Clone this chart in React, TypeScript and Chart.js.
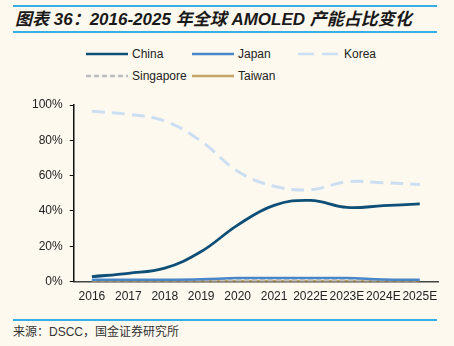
import React, { useEffect, useRef } from "react";
import { Chart, registerables } from "chart.js";

Chart.register(...registerables);

const categories = ["2016", "2017", "2018", "2019", "2020", "2021", "2022E", "2023E", "2024E", "2025E"];
const china = [2.8, 4.7, 7.6, 17, 32, 43.2, 46, 42, 43, 44];
const japan = [1, 1, 1, 1.3, 2, 2, 2, 2, 1.2, 1];
const korea = [96.5, 94.7, 91, 79.5, 62.5, 54, 52, 56.5, 56, 55];
const singapore = [0.6, 0.6, 0.6, 0.6, 0.6, 0.6, 0.6, 0.6, 0.6, 0.6];
const taiwan = [0.1, 0.1, 0.1, 0.1, 0.1, 0.1, 0.1, 0.1, 0.1, 0.1];
const yTicks = [0, 20, 40, 60, 80, 100];

const BG = "#FDF9EF";
const C_CHINA = "#0E4F77";
const C_JAPAN = "#4A87C9";
const C_KOREA = "#CCDFF2";
const C_SING = "#BDBDBD";
const C_TAIWAN = "#C7A364";

const legendItems = [
  { label: "China", color: C_CHINA, dash: "", x: 86, y: 54 },
  { label: "Japan", color: C_JAPAN, dash: "", x: 192, y: 54 },
  { label: "Korea", color: C_KOREA, dash: "16 8", x: 298, y: 54 },
  { label: "Singapore", color: C_SING, dash: "5 3", x: 86, y: 76 },
  { label: "Taiwan", color: C_TAIWAN, dash: "", x: 192, y: 76 },
];

export default function App() {
  const ref = useRef<HTMLCanvasElement>(null);

  useEffect(() => {
    const prevMargin = document.body.style.margin;
    document.body.style.margin = "0";
    const ctx = ref.current!;
    const ds = (label: string, data: number[], color: string, width: number, dash: number[] = []) => ({
      label,
      data,
      borderColor: color,
      backgroundColor: color,
      borderWidth: width,
      borderDash: dash,
      pointRadius: 0,
      tension: 0.4,
      fill: false,
    });
    const chart = new Chart(ctx, {
      type: "line",
      data: {
        labels: categories,
        datasets: [
          ds("China", china, C_CHINA, 2.8),
          ds("Korea", korea, C_KOREA, 3, [13, 7]),
          ds("Japan", japan, C_JAPAN, 2.5),
          ds("Singapore", singapore, C_SING, 2.5, [5, 3]),
          ds("Taiwan", taiwan, C_TAIWAN, 2.8),
        ],
      },
      options: {
        animation: false,
        responsive: false,
        maintainAspectRatio: false,
        layout: { padding: { top: 17, left: 25, right: 16, bottom: 6 } },
        plugins: { legend: { display: false }, title: { display: false }, tooltip: { enabled: false } },
        scales: {
          x: {
            offset: true,
            grid: { display: true, drawOnChartArea: false, drawTicks: false, color: "#444", offset: true },
            border: { display: true, color: "#444", width: 1.5 },
            ticks: { color: "#222", font: { family: "'Liberation Sans', Arial, sans-serif", size: 12 }, padding: 8, maxRotation: 0, autoSkip: false },
          },
          y: {
            min: 0,
            max: 100,
            afterBuildTicks: (axis: any) => {
              axis.ticks = yTicks.map((v) => ({ value: v }));
            },
            grid: { display: true, drawOnChartArea: false, drawTicks: true, tickLength: 4, color: "#111" },
            border: { display: true, color: "#111", width: 1.5 },
            ticks: {
              color: "#222",
              font: { family: "'Liberation Sans', Arial, sans-serif", size: 12 },
              padding: 7,
              callback: (v: any) => v + "%",
            },
          },
        },
      },
    });
    return () => {
      chart.destroy();
      document.body.style.margin = prevMargin;
    };
  }, []);

  const lineStyle = (y: number): React.CSSProperties => ({
    position: "absolute",
    left: 13,
    width: 424,
    top: y,
    height: 2,
    background: "#38AEE6",
  });

  return (
    <div style={{ position: "fixed", left: 0, top: 0, width: 454, height: 346, background: BG, overflow: "hidden" }}>
      <div style={lineStyle(5)} />
      <div
        style={{
          position: "absolute",
          left: 15,
          top: 9,
          fontFamily: "'Liberation Sans', 'Noto Sans CJK SC', sans-serif",
          fontSize: 17,
          fontWeight: "bold",
          fontStyle: "italic",
          color: "#1a1a1a",
          whiteSpace: "nowrap",
          lineHeight: "22px",
        }}
      >
        图表 36：2016-2025 年全球 AMOLED 产能占比变化
      </div>
      <div style={lineStyle(31)} />
      {legendItems.map((it) => (
        <div key={it.label} style={{ position: "absolute", left: it.x, top: it.y - 8, height: 16, display: "flex", alignItems: "center" }}>
          <svg width={42} height={6} style={{ display: "block" }}>
            <line x1={0} y1={3} x2={42} y2={3} stroke={it.color} strokeWidth={2.5} strokeDasharray={it.dash || undefined} />
          </svg>
          <span
            style={{
              marginLeft: 4,
              fontFamily: "'Liberation Sans', Arial, sans-serif",
              fontSize: 12,
              color: "#222",
              lineHeight: "16px",
            }}
          >
            {it.label}
          </span>
        </div>
      ))}
      <canvas ref={ref} width={454} height={230} style={{ position: "absolute", left: 0, top: 88, width: 454, height: 230 }} />
      <div style={lineStyle(319)} />
      <div
        style={{
          position: "absolute",
          left: 13,
          top: 324,
          fontFamily: "'Liberation Sans', 'Noto Sans CJK SC', sans-serif",
          fontSize: 12,
          color: "#333",
          whiteSpace: "nowrap",
          lineHeight: "16px",
        }}
      >
        来源：DSCC，国金证券研究所
      </div>
    </div>
  );
}
